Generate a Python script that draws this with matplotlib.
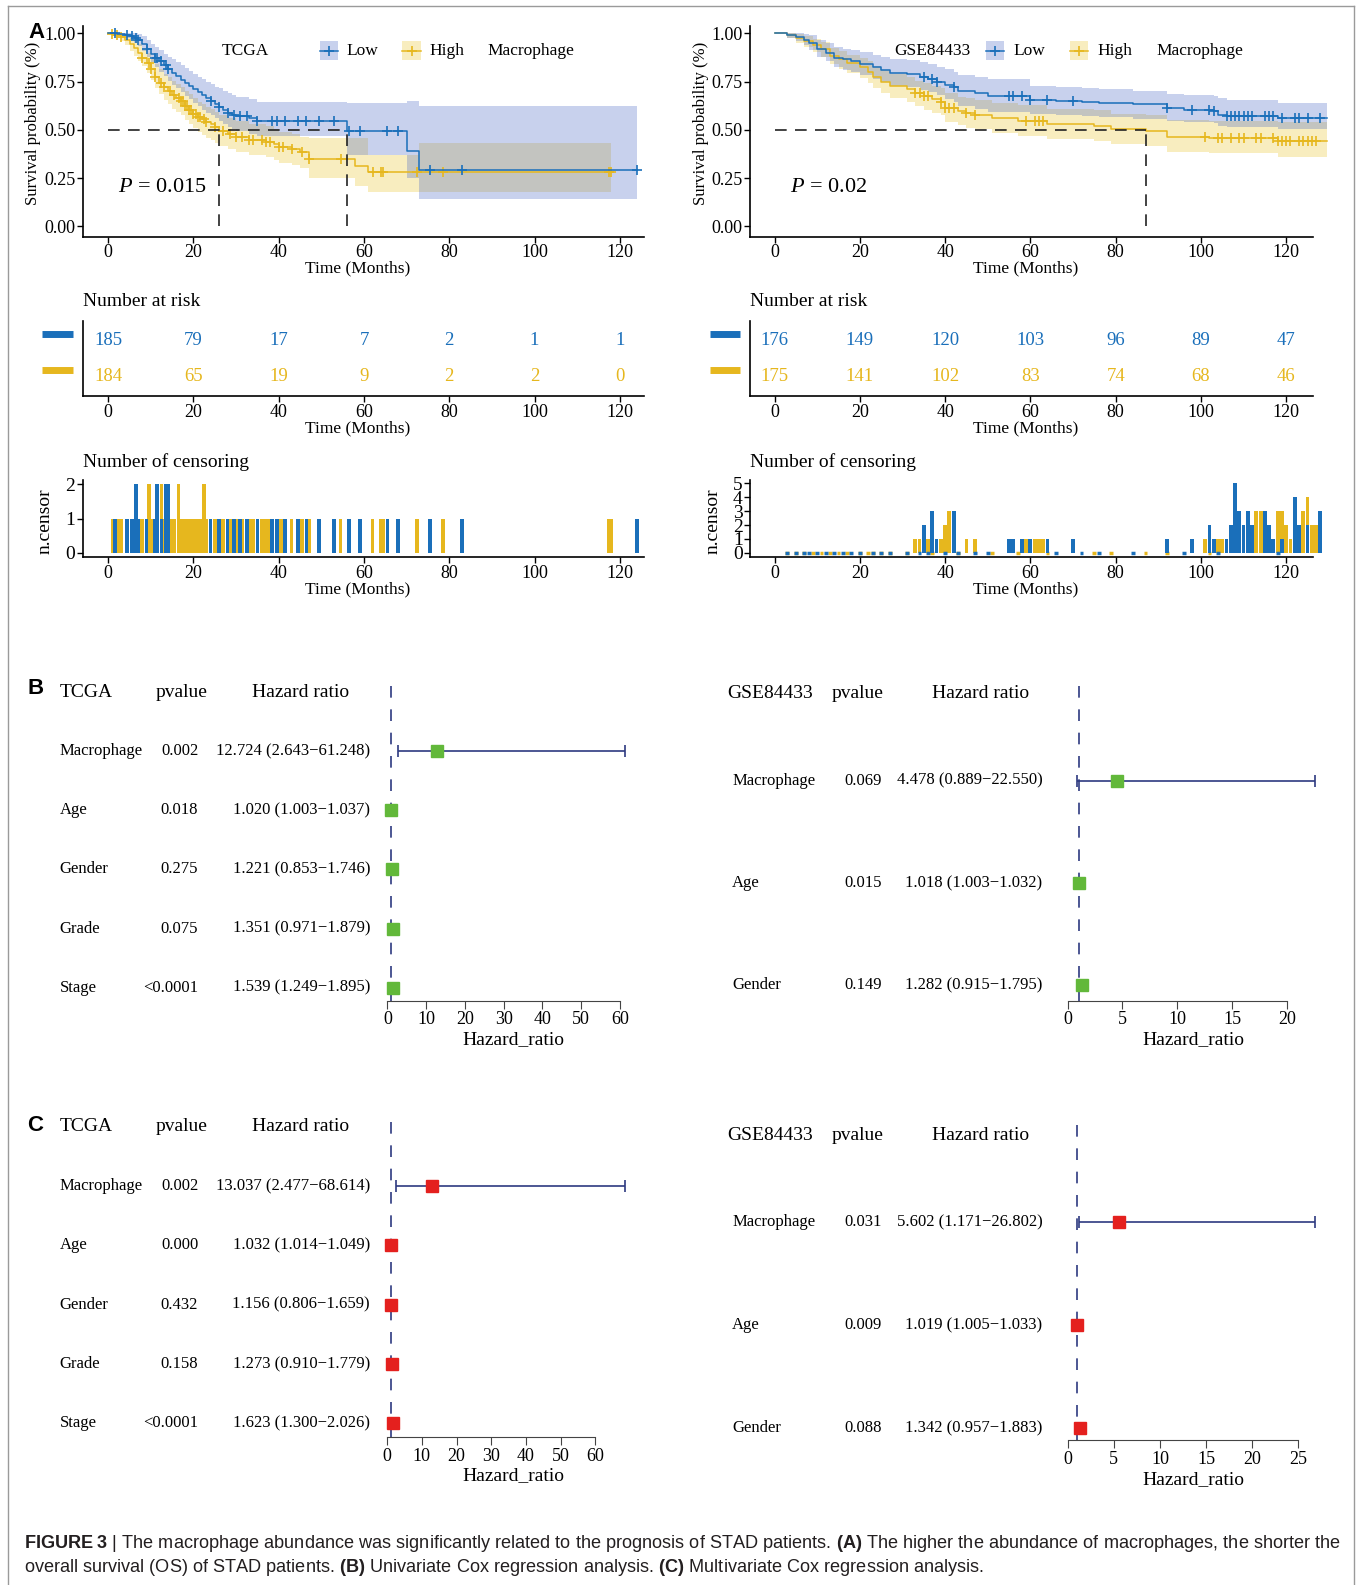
import numpy as np
import matplotlib
matplotlib.use("Agg")
import matplotlib.pyplot as plt
from matplotlib import font_manager
from matplotlib.lines import Line2D
from matplotlib.patches import Rectangle
from matplotlib.transforms import blended_transform_factory

plt.rcParams['font.family'] = ['Liberation Serif', 'DejaVu Serif']
plt.rcParams['mathtext.fontset'] = 'custom'
plt.rcParams['mathtext.rm'] = 'Liberation Serif'
plt.rcParams['mathtext.it'] = 'Liberation Serif:italic'
plt.rcParams['mathtext.bf'] = 'Liberation Sans:bold'

LOW_COL = '#1A6FBA'
HIGH_COL = '#E6B71E'
LOW_BAND = '#4B67C4'
HIGH_BAND = '#E7B800'
NAVY = '#2E3A80'

# ---------------- survival data: TCGA ----------------
tcga_low_t = [0, 2, 4, 5, 6, 7, 8, 9, 10, 11, 12, 13, 14, 15, 16, 17, 18, 19, 20, 21, 22,
              23, 24, 25, 26, 27, 28, 29, 30, 33, 35, 56, 70, 73]
tcga_low_s = [1.0, 0.995, 0.99, 0.985, 0.975, 0.965, 0.945, 0.92, 0.895, 0.875, 0.855, 0.835,
              0.815, 0.795, 0.78, 0.76, 0.745, 0.73, 0.71, 0.695, 0.68, 0.665, 0.65, 0.635,
              0.62, 0.605, 0.59, 0.58, 0.57, 0.56, 0.548, 0.497, 0.39, 0.292]
tcga_low_up = [1.0, 1.0, 1.0, 1.0, 1.0, 0.995, 0.985, 0.965, 0.945, 0.93, 0.915, 0.895, 0.88,
               0.865, 0.85, 0.835, 0.82, 0.805, 0.79, 0.775, 0.765, 0.75, 0.74, 0.725, 0.715,
               0.70, 0.69, 0.68, 0.67, 0.66, 0.645, 0.64, 0.65, 0.626]
tcga_low_lo = [1.0, 0.985, 0.975, 0.965, 0.95, 0.935, 0.91, 0.88, 0.85, 0.825, 0.80, 0.78,
               0.755, 0.735, 0.715, 0.695, 0.675, 0.66, 0.64, 0.625, 0.605, 0.59, 0.575, 0.56,
               0.545, 0.53, 0.515, 0.505, 0.495, 0.48, 0.47, 0.37, 0.25, 0.14]
tcga_low_end = 124

tcga_high_t = [0, 1, 2, 3, 4, 5, 6, 7, 8, 9, 10, 11, 12, 13, 14, 15, 16, 17, 18, 19, 20, 21,
               22, 23, 24, 25, 26, 28, 30, 33, 37, 39, 40, 43, 45, 47, 58, 61, 73]
tcga_high_s = [1.0, 0.995, 0.99, 0.98, 0.965, 0.945, 0.925, 0.90, 0.875, 0.845, 0.815, 0.775,
               0.745, 0.72, 0.70, 0.68, 0.665, 0.65, 0.625, 0.605, 0.585, 0.565, 0.555, 0.54,
               0.53, 0.515, 0.495, 0.48, 0.465, 0.45, 0.44, 0.425, 0.41, 0.40, 0.385, 0.352,
               0.311, 0.282, 0.282]
tcga_high_up = [1.0, 1.0, 1.0, 1.0, 0.99, 0.98, 0.965, 0.945, 0.925, 0.90, 0.875, 0.84, 0.815,
                0.79, 0.775, 0.755, 0.74, 0.725, 0.70, 0.685, 0.665, 0.645, 0.635, 0.62, 0.61,
                0.595, 0.575, 0.56, 0.545, 0.53, 0.52, 0.505, 0.49, 0.48, 0.465, 0.46, 0.46,
                0.37, 0.43]
tcga_high_lo = [1.0, 0.985, 0.975, 0.96, 0.94, 0.91, 0.885, 0.855, 0.83, 0.795, 0.76, 0.715,
                0.685, 0.655, 0.635, 0.61, 0.595, 0.575, 0.55, 0.53, 0.51, 0.49, 0.475, 0.46,
                0.45, 0.435, 0.415, 0.40, 0.385, 0.37, 0.36, 0.345, 0.33, 0.32, 0.305, 0.25,
                0.21, 0.18, 0.18]
tcga_high_end = 118

# censoring times and counts
tcga_low_ct = [1.5, 4.5, 5.5, 6.5, 7, 9, 11, 11.5, 12.5, 13.5, 14, 24, 26, 28, 29.5, 31, 32.5,
               35, 38.5, 39.5, 41.5, 44.5, 46.5, 49.5, 53, 56.5, 59, 65.5, 68, 75.5, 83, 124]
tcga_low_cn = [1, 1, 1, 2, 1, 1, 1, 2, 1, 2, 2, 1, 1, 1, 1, 1, 1, 1, 1, 1, 1, 1, 1, 1, 1, 1,
               1, 1, 1, 1, 1, 1]
tcga_high_ct = [1, 2, 3, 8, 9.5, 10, 11, 12.5, 13, 14.5, 15.5, 16.5, 17, 17.5, 18, 18.5, 19,
                19.5, 20, 20.5, 21, 21.5, 22.5, 23, 25, 27, 28.5, 30, 31.5, 33, 34, 36, 37, 38,
                40, 41, 43, 45.5, 47, 54.5, 62, 64, 64.5, 72.5, 78.5, 117.5, 118]
tcga_high_cn = [1, 1, 1, 1, 2, 1, 1, 2, 1, 1, 1, 2, 1, 1, 1, 1, 1, 1, 1, 1, 1, 1, 2, 1, 1, 1,
                1, 1, 1, 1, 1, 1, 1, 1, 1, 1, 1, 1, 1, 1, 1, 1, 1, 1, 1, 1, 1]
tcga_medians = [26, 56]

# ---------------- survival data: GSE84433 ----------------
gse_low_t = [0, 3, 5, 7, 8, 10, 12, 14, 16, 18, 20, 23, 25, 27, 31, 34, 36, 38, 40, 42, 43,
             47, 50, 60, 66, 72, 76, 84, 92, 96, 103, 104, 106, 118]
gse_low_s = [1.0, 0.99, 0.98, 0.965, 0.95, 0.92, 0.9, 0.875, 0.865, 0.855, 0.843, 0.825, 0.813,
             0.796, 0.79, 0.775, 0.765, 0.75, 0.735, 0.72, 0.70, 0.69, 0.675, 0.657, 0.65,
             0.645, 0.64, 0.632, 0.612, 0.605, 0.597, 0.58, 0.571, 0.562]
gse_low_up = [1.0, 1.0, 1.0, 0.995, 0.99, 0.965, 0.95, 0.93, 0.92, 0.915, 0.905, 0.89, 0.88,
              0.865, 0.86, 0.85, 0.84, 0.825, 0.815, 0.80, 0.785, 0.775, 0.765, 0.73, 0.72,
              0.715, 0.71, 0.70, 0.685, 0.68, 0.675, 0.665, 0.655, 0.64]
gse_low_lo = [1.0, 0.975, 0.96, 0.94, 0.915, 0.88, 0.855, 0.825, 0.81, 0.8, 0.785, 0.765, 0.75,
              0.73, 0.72, 0.705, 0.695, 0.68, 0.66, 0.645, 0.625, 0.61, 0.595, 0.585, 0.575,
              0.57, 0.565, 0.555, 0.545, 0.54, 0.535, 0.52, 0.515, 0.505]
gse_low_end = 129.5

gse_high_t = [0, 3, 5, 7, 9, 11, 13, 15, 17, 20, 22, 23, 25, 27, 31, 33, 35, 37, 39, 40, 43,
              45, 47, 51, 57, 64, 75, 79, 87, 92, 102, 118]
gse_high_s = [1.0, 0.99, 0.975, 0.96, 0.94, 0.92, 0.885, 0.865, 0.845, 0.825, 0.80, 0.775,
              0.75, 0.727, 0.71, 0.69, 0.675, 0.66, 0.645, 0.615, 0.598, 0.588, 0.58, 0.562,
              0.548, 0.53, 0.522, 0.503, 0.493, 0.462, 0.458, 0.445]
gse_high_up = [1.0, 1.0, 0.995, 0.985, 0.97, 0.955, 0.925, 0.91, 0.89, 0.875, 0.855, 0.83,
               0.81, 0.79, 0.775, 0.755, 0.745, 0.73, 0.715, 0.69, 0.67, 0.665, 0.655, 0.64,
               0.63, 0.61, 0.605, 0.585, 0.58, 0.55, 0.545, 0.54]
gse_high_lo = [1.0, 0.975, 0.95, 0.93, 0.905, 0.88, 0.84, 0.815, 0.795, 0.77, 0.745, 0.715,
               0.69, 0.665, 0.645, 0.625, 0.605, 0.59, 0.575, 0.54, 0.525, 0.51, 0.505, 0.485,
               0.47, 0.455, 0.445, 0.425, 0.415, 0.385, 0.38, 0.36]
gse_high_end = 129.5

gse_low_ct = [35, 37, 38, 42, 55, 56, 58, 60, 64, 70, 92, 98, 102, 103, 106, 107, 108, 109,
              110, 111, 112, 115, 116, 117, 119, 122, 123, 125, 128]
gse_low_cn = [2, 3, 1, 3, 1, 1, 1, 1, 1, 1, 1, 1, 2, 1, 1, 2, 5, 3, 2, 3, 2, 3, 2, 1, 1, 4, 2,
              2, 3]
gse_high_ct = [33, 34, 35, 36, 39, 40, 41, 42, 45, 47, 59, 61, 62, 63, 101, 104, 105, 107, 109,
               110, 113, 114, 117, 118, 119, 120, 121, 123, 124, 125, 126, 127]
gse_high_cn = [1, 1, 1, 1, 1, 2, 3, 2, 1, 1, 1, 1, 1, 1, 1, 1, 1, 1, 1, 1, 3, 3, 1, 3, 3, 2, 1,
               2, 3, 4, 2, 2]
gse_medians = [87]

# ---------------- numbers at risk ----------------
risk_t = [0, 20, 40, 60, 80, 100, 120]
tcga_risk_low = [185, 79, 17, 7, 2, 1, 1]
tcga_risk_high = [184, 65, 19, 9, 2, 2, 0]
gse_risk_low = [176, 149, 120, 103, 96, 89, 47]
gse_risk_high = [175, 141, 102, 83, 74, 68, 46]

# ---------------- Cox regression ----------------
tcga_vars = ['Macrophage', 'Age', 'Gender', 'Grade', 'Stage']
gse_vars = ['Macrophage', 'Age', 'Gender']

uni_tcga_p = ['0.002', '0.018', '0.275', '0.075', '<0.0001']
uni_tcga_hr = [12.724, 1.020, 1.221, 1.351, 1.539]
uni_tcga_lo = [2.643, 1.003, 0.853, 0.971, 1.249]
uni_tcga_hi = [61.248, 1.037, 1.746, 1.879, 1.895]

uni_gse_p = ['0.069', '0.015', '0.149']
uni_gse_hr = [4.478, 1.018, 1.282]
uni_gse_lo = [0.889, 1.003, 0.915]
uni_gse_hi = [22.550, 1.032, 1.795]

multi_tcga_p = ['0.002', '0.000', '0.432', '0.158', '<0.0001']
multi_tcga_hr = [13.037, 1.032, 1.156, 1.273, 1.623]
multi_tcga_lo = [2.477, 1.014, 0.806, 0.910, 1.300]
multi_tcga_hi = [68.614, 1.049, 1.659, 1.779, 2.026]

multi_gse_p = ['0.031', '0.009', '0.088']
multi_gse_hr = [5.602, 1.019, 1.342]
multi_gse_lo = [1.171, 1.005, 0.957]
multi_gse_hi = [26.802, 1.033, 1.883]

fig = plt.figure(figsize=(13.57, 15.85), dpi=100)


def fx(x):
    return x / 1342


def fy(y):
    return 1 - y / 1568


def rect(l, t, r, b):
    return [fx(l), fy(b), fx(r) - fx(l), fy(t) - fy(b)]


def style_axes(ax, xlim, xend):
    for side in ('top', 'right'):
        ax.spines[side].set_visible(False)
    for side in ('left', 'bottom'):
        ax.spines[side].set_linewidth(1.2)
    ax.spines['bottom'].set_bounds(xlim[0], xend)
    ax.set_xlim(xlim)
    ax.set_xticks(risk_t)
    ax.tick_params(labelsize=13, length=4, width=1, pad=1.5)


def make_curve(t, s, up, lo, end, ct, cn, color, band, alpha):
    return dict(t=np.array(t, float), s=np.array(s), up=np.array(up), lo=np.array(lo),
                end=end, ct=np.array(ct, float), cn=np.array(cn), color=color,
                band=band, alpha=alpha)


def km_panel(box, xlim, xend, curves, medians, ptext, px):
    l, t, r, b = box
    ax = fig.add_axes(rect(*box))
    for c in curves:
        ts = np.append(c['t'], c['end'])
        ax.fill_between(ts, np.append(c['lo'], c['lo'][-1]), np.append(c['up'], c['up'][-1]),
                        step='post', color=c['band'], alpha=c['alpha'], lw=0)
    for c in curves:
        ts = np.append(c['t'], c['end'])
        ax.step(ts, np.append(c['s'], c['s'][-1]), where='post', color=c['color'], lw=1.1)
        idx = np.searchsorted(c['t'], c['ct'], side='right') - 1
        ax.plot(c['ct'], c['s'][idx], '+', color=c['color'], ms=7, mew=1.2)
    # median survival guides
    ax.plot([0, max(medians)], [0.5, 0.5], color='#222222', lw=1.2, dashes=(7, 5))
    for m in medians:
        ax.plot([m, m], [0, 0.5], color='#222222', lw=1.2, dashes=(7, 5))
    ax.text(px, 0.2, ptext, fontsize=16, va='center', ha='left')
    ax.set_ylim(-0.052, 1.037)
    ax.set_yticks([0, 0.25, 0.5, 0.75, 1.0])
    ax.set_yticklabels(['0.00', '0.25', '0.50', '0.75', '1.00'])
    style_axes(ax, xlim, xend)
    ax.set_ylabel('Survival probability (%)', fontsize=12, va='center')
    ax.yaxis.set_label_coords(-49 / (r - l), 0.54)
    ax.set_xlabel('Time (Months)', fontsize=12.5, va='center')
    ax.xaxis.set_label_coords(272 / (r - l), -32 / (b - t))
    return ax


def km_legend(title, title_x, y, items):
    fig.text(fx(title_x), fy(y), title, ha='center', va='center', fontsize=12.5)
    for x0, label, col, band, alpha in items:
        x1 = x0 + 18
        fig.add_artist(Rectangle((fx(x0), fy(y + 9)), fx(x1) - fx(x0), fy(y - 9) - fy(y + 9),
                                 transform=fig.transFigure, facecolor=band, alpha=alpha,
                                 edgecolor='none'))
        fig.add_artist(Line2D([fx(x0), fx(x1)], [fy(y), fy(y)], color=col, lw=1.1,
                              transform=fig.transFigure))
        fig.add_artist(Line2D([fx(x0 + 9)], [fy(y)], marker='+', ms=7, mew=1.2, color=col,
                              transform=fig.transFigure))
        fig.text(fx(x1 + 9), fy(y), label, ha='left', va='center', fontsize=12.5)


def risk_panel(box, xlim, xend, rows, dash_x):
    l, t, r, b = box
    ax = fig.add_axes(rect(*box))
    ax.set_ylim(0.429, 2.543)
    style_axes(ax, xlim, xend)
    ax.set_yticks([])
    bt = blended_transform_factory(fig.transFigure, ax.transData)
    for yrow, counts, col in rows:
        for tt, n in zip(risk_t, counts):
            ax.text(tt, yrow, str(n), ha='center', va='center', color=col, fontsize=13.5)
        ax.add_line(Line2D([fx(dash_x[0]), fx(dash_x[1])], [yrow + 0.18, yrow + 0.18],
                           transform=bt, color=col, lw=5, solid_capstyle='butt',
                           clip_on=False))
    ax.set_xlabel('Time (Months)', fontsize=12.5, va='center')
    ax.xaxis.set_label_coords(272 / (r - l), -32 / (b - t))
    fig.text(fx(l), fy(t - 20), 'Number at risk', fontsize=14, ha='left', va='center')
    return ax


def censor_panel(box, xlim, xend, ylim, yticks, curves, zero_bars):
    l, t, r, b = box
    ax = fig.add_axes(rect(*box))
    for c in curves:
        if zero_bars:
            ev = [x for x in c['t'][1:] if x not in set(c['ct'])]
            ax.bar(ev, np.zeros(len(ev)), width=0.9, color=c['color'], edgecolor=c['color'],
                   linewidth=2.5)
        ax.bar(c['ct'], c['cn'], width=0.9, color=c['color'], linewidth=0)
    ax.set_ylim(ylim)
    ax.set_yticks(yticks)
    style_axes(ax, xlim, xend)
    ax.tick_params(axis='y', labelsize=14)
    ax.set_ylabel('n.censor', fontsize=14, va='center')
    ax.yaxis.set_label_coords(-37 / (r - l), 0.47)
    ax.set_xlabel('Time (Months)', fontsize=12.5, va='center')
    ax.xaxis.set_label_coords(272 / (r - l), -32 / (b - t))
    fig.text(fx(l), fy(t - 18), 'Number of censoring', fontsize=14, ha='left', va='center')
    return ax


def forest_panel(box, xlim, xticks, ylim, header_y, title, names, pvals, hr, lo, hi, color,
                 cols):
    ax = fig.add_axes(rect(*box))
    n = len(names)
    rows = np.arange(n, 0, -1)
    ax.axvline(1, color=NAVY, lw=1.2, dashes=(7, 7))
    ax.hlines(rows, lo, hi, color=NAVY, lw=1.2)
    ax.plot(lo, rows, '|', color=NAVY, ms=9, mew=1.2)
    ax.plot(hi, rows, '|', color=NAVY, ms=9, mew=1.2)
    ax.plot(hr, rows, 's', color=color, ms=8, mec=color)
    ax.set_xlim(xlim)
    ax.set_ylim(ylim)
    for side in ('top', 'right', 'left'):
        ax.spines[side].set_visible(False)
    ax.spines['bottom'].set_bounds(xticks[0], xticks[-1])
    ax.spines['bottom'].set_color('#444444')
    ax.set_xticks(xticks)
    ax.set_yticks([])
    ax.tick_params(axis='x', labelsize=13, length=6, pad=1.5, color='#444444')
    ax.set_xlabel('Hazard_ratio', fontsize=14, labelpad=2)
    bt = blended_transform_factory(fig.transFigure, ax.transData)
    name_x, p_x, hr_x, head_x, ph_x, hh_x = cols
    ax.text(fx(head_x), header_y, title, transform=bt, fontsize=14, ha='left', va='center')
    ax.text(fx(ph_x), header_y, 'pvalue', transform=bt, fontsize=14, ha='center', va='center')
    ax.text(fx(hh_x), header_y, 'Hazard ratio', transform=bt, fontsize=14, ha='center',
            va='center')
    for y, nm, p, h, a, z in zip(rows, names, pvals, hr, lo, hi):
        ax.text(fx(name_x), y, nm, transform=bt, fontsize=12, ha='left', va='center')
        ax.text(fx(p_x), y, p, transform=bt, fontsize=12, ha='right', va='center')
        ax.text(fx(hr_x), y, '%.3f (%.3f\u2212%.3f)' % (h, a, z), transform=bt, fontsize=12,
                ha='right', va='center')
    return ax


tcga_curves = [
    make_curve(tcga_high_t, tcga_high_s, tcga_high_up, tcga_high_lo, tcga_high_end,
               tcga_high_ct, tcga_high_cn, HIGH_COL, HIGH_BAND, 0.25),
    make_curve(tcga_low_t, tcga_low_s, tcga_low_up, tcga_low_lo, tcga_low_end,
               tcga_low_ct, tcga_low_cn, LOW_COL, LOW_BAND, 0.3),
]
gse_curves = [
    make_curve(gse_high_t, gse_high_s, gse_high_up, gse_high_lo, gse_high_end,
               gse_high_ct, gse_high_cn, HIGH_COL, HIGH_BAND, 0.25),
    make_curve(gse_low_t, gse_low_s, gse_low_up, gse_low_lo, gse_low_end,
               gse_low_ct, gse_low_cn, LOW_COL, LOW_BAND, 0.3),
]

# panel A: Kaplan-Meier curves, risk tables, censoring counts
left_x = (-5.93, 125.7)
right_x = (-5.69, 130.2)
km_panel((82, 26, 637, 234), left_x, 125.7, tcga_curves, tcga_medians, r'$P$ = 0.015', 2.4)
km_panel((742, 26, 1315, 234), right_x, 126.2, gse_curves, gse_medians, r'$P$ = 0.02', 3.6)
km_legend('TCGA', 243, 50, [(316, 'Low', LOW_COL, LOW_BAND, 0.3),
                            (398, 'High', HIGH_COL, HIGH_BAND, 0.25)])
fig.text(fx(482), fy(50), 'Macrophage', ha='left', va='center', fontsize=12.5)
km_legend('GSE84433', 922, 50, [(975, 'Low', LOW_COL, LOW_BAND, 0.3),
                                (1058, 'High', HIGH_COL, HIGH_BAND, 0.25)])
fig.text(fx(1144), fy(50), 'Macrophage', ha='left', va='center', fontsize=12.5)

risk_panel((82, 318, 637, 392), left_x, 125.7,
           [(2, tcga_risk_low, LOW_COL), (1, tcga_risk_high, HIGH_COL)], (42, 72))
risk_panel((742, 318, 1315, 392), right_x, 126.2,
           [(2, gse_risk_low, LOW_COL), (1, gse_risk_high, HIGH_COL)], (702, 732))

censor_panel((82, 475, 637, 551), left_x, 125.7, (-0.118, 2.118), [0, 1, 2], tcga_curves,
             False)
censor_panel((742, 475, 1315, 551), right_x, 126.2, (-0.29, 5.22), [0, 1, 2, 3, 4, 5],
             gse_curves, True)

# panels B and C: forest plots
left_cols = (59, 196, 366, 59, 180, 297)
right_cols = (724, 872, 1031, 719, 848, 970)
forest_panel((375, 677, 640, 990), (-2.1, 67.0), [0, 10, 20, 30, 40, 50, 60], (0.78, 6.13),
             6, 'TCGA', tcga_vars, uni_tcga_p, uni_tcga_hr, uni_tcga_lo, uni_tcga_hi,
             '#62B83A', left_cols)
forest_panel((1045, 677, 1315, 990), (-1.0, 23.9), [0, 5, 10, 15, 20], (0.85, 3.94),
             3.85, 'GSE84433', gse_vars, uni_gse_p, uni_gse_hr, uni_gse_lo, uni_gse_hi,
             '#62B83A', right_cols)
forest_panel((375, 1107, 640, 1422), (-2.3, 74.9), [0, 10, 20, 30, 40, 50, 60], (0.76, 6.13),
             6, 'TCGA', tcga_vars, multi_tcga_p, multi_tcga_hr, multi_tcga_lo, multi_tcga_hi,
             '#E4201E', left_cols)
forest_panel((1045, 1113, 1315, 1425), (-1.2, 28.4), [0, 5, 10, 15, 20, 25], (0.88, 3.94),
             3.84, 'GSE84433', gse_vars, multi_gse_p, multi_gse_hr, multi_gse_lo,
             multi_gse_hi, '#E4201E', right_cols)

# panel letters
for letter, x, y in [('A', 36, 32), ('B', 35, 681), ('C', 35, 1113)]:
    fig.text(fx(x), fy(y), letter, family='Liberation Sans', fontweight='bold', fontsize=16,
             ha='center', va='center')

# caption
cap_font = 'Liberation Sans'
try:
    font_manager.findfont(font_manager.FontProperties(family='Liberation Sans Narrow'),
                          fallback_to_default=False)
    cap_font = 'Liberation Sans Narrow'
except ValueError:
    pass

cap1 = (r'$\mathbf{FIGURE\ 3}$ | The macrophage abundance was significantly related to the '
        r'prognosis of STAD patients. $\mathbf{(A)}$ The higher the abundance of macrophages, '
        r'the shorter the')
cap2 = (r'overall survival (OS) of STAD patients. $\mathbf{(B)}$ Univariate Cox regression '
        r'analysis. $\mathbf{(C)}$ Multivariate Cox regression analysis.')
t1 = fig.text(fx(24), fy(1527), cap1, family=cap_font, fontsize=13, color='#231F20',
              ha='left', va='center')
t2 = fig.text(fx(24), fy(1551), cap2, family=cap_font, fontsize=13, color='#231F20',
              ha='left', va='center')
renderer = fig.canvas.get_renderer()
w1 = t1.get_window_extent(renderer).width
size = 13 * (1301 * 1357 / 1342) / w1
t1.set_fontsize(size)
t2.set_fontsize(size)

# page frame
frame = dict(color='#9A9A9A', lw=1.0, transform=fig.transFigure)
fig.add_artist(Line2D([fx(8), fx(8)], [0, fy(6)], **frame))
fig.add_artist(Line2D([fx(8), fx(1339)], [fy(6), fy(6)], **frame))
fig.add_artist(Line2D([fx(1339), fx(1339)], [0, fy(6)], **frame))

fig.savefig('out.png', dpi=100)
